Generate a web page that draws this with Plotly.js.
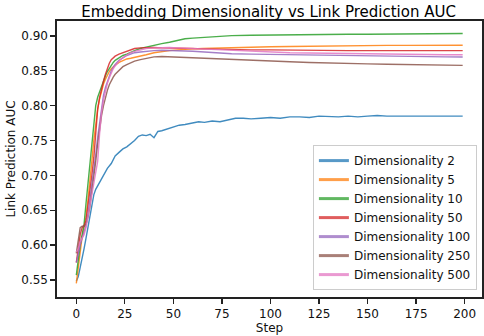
<!DOCTYPE html>
<html>
<head>
<meta charset="utf-8">
<script src="https://cdn.plot.ly/plotly-3.0.1.min.js"></script>
<style>html,body{margin:0;padding:0;background:#fff;}#chart{width:484px;height:336px;}</style>
</head>
<body>
<div id="chart"></div>
<script>
const steps = [0,1,2,3,4,5,6,7,8,9,10,11,12,13,14,15,16,17,18,19,20,22,24,26,28,30,33,36,40,44,48,52,56,60,65,70,75,80,90,100,110,120,130,140,150,160,170,180,190,199];
const stepsDim2 = [0,1,2,3,4,5,6,7,8,9,10,12,14,16,18,20,22,24,26,28,30,32,34,36,38,40,42,44,46,48,50,53,56,60,63,66,70,74,78,82,86,90,95,100,105,110,115,120,125,130,135,140,145,150,155,160,165,170,175,180,185,190,195,199];

const dim2 = [0.548,0.555,0.568,0.580,0.595,0.610,0.625,0.645,0.660,0.672,0.680,0.690,0.701,0.710,0.717,0.728,0.733,0.738,0.741,0.745,0.750,0.756,0.758,0.757,0.759,0.754,0.763,0.764,0.766,0.768,0.769,0.772,0.773,0.775,0.777,0.776,0.778,0.777,0.779,0.782,0.782,0.781,0.782,0.783,0.782,0.784,0.784,0.783,0.785,0.784,0.784,0.785,0.784,0.785,0.786,0.785,0.785,0.785,0.785,0.785,0.785,0.785,0.785,0.785];
const dim5 = [0.545,0.570,0.595,0.612,0.625,0.640,0.665,0.690,0.720,0.750,0.775,0.795,0.810,0.822,0.831,0.838,0.844,0.849,0.853,0.856,0.858,0.862,0.865,0.867,0.868,0.869,0.871,0.873,0.876,0.878,0.879,0.880,0.881,0.8815,0.882,0.8825,0.883,0.8835,0.884,0.8845,0.885,0.8855,0.886,0.886,0.8862,0.8865,0.8865,0.8867,0.8867,0.8868];
const dim10 = [0.557,0.580,0.600,0.615,0.630,0.660,0.690,0.715,0.750,0.780,0.800,0.812,0.820,0.830,0.837,0.843,0.849,0.854,0.858,0.862,0.865,0.869,0.872,0.874,0.877,0.879,0.882,0.884,0.887,0.889,0.891,0.894,0.896,0.897,0.898,0.899,0.900,0.9005,0.901,0.9015,0.902,0.902,0.9022,0.9025,0.9025,0.9028,0.903,0.903,0.9032,0.9035];
const dim50 = [0.575,0.595,0.615,0.625,0.628,0.635,0.655,0.680,0.700,0.725,0.765,0.795,0.812,0.825,0.835,0.845,0.854,0.861,0.866,0.869,0.871,0.874,0.876,0.878,0.880,0.882,0.883,0.8835,0.8835,0.883,0.883,0.8825,0.882,0.882,0.8815,0.881,0.881,0.8805,0.880,0.880,0.8795,0.8795,0.879,0.879,0.879,0.879,0.879,0.879,0.879,0.879];
const dim100 = [0.575,0.590,0.600,0.610,0.618,0.628,0.645,0.665,0.685,0.705,0.730,0.755,0.778,0.800,0.815,0.826,0.835,0.843,0.850,0.855,0.859,0.865,0.869,0.872,0.874,0.876,0.877,0.878,0.879,0.8795,0.8795,0.879,0.8785,0.878,0.877,0.876,0.875,0.8745,0.874,0.8735,0.873,0.8725,0.872,0.8715,0.871,0.8708,0.8705,0.8702,0.870,0.8698];
const dim250 = [0.588,0.610,0.625,0.627,0.627,0.630,0.640,0.655,0.675,0.695,0.720,0.745,0.768,0.786,0.800,0.812,0.822,0.830,0.836,0.841,0.845,0.851,0.856,0.859,0.862,0.864,0.866,0.868,0.870,0.8705,0.870,0.8695,0.869,0.8685,0.868,0.867,0.8665,0.866,0.865,0.864,0.863,0.862,0.861,0.8605,0.860,0.8595,0.859,0.8585,0.858,0.8578];
const dim500 = [0.590,0.595,0.605,0.610,0.615,0.625,0.640,0.655,0.675,0.690,0.700,0.720,0.760,0.790,0.808,0.822,0.832,0.840,0.847,0.853,0.857,0.864,0.869,0.873,0.876,0.878,0.880,0.882,0.883,0.8835,0.8835,0.883,0.8825,0.882,0.881,0.8805,0.880,0.879,0.878,0.877,0.876,0.8755,0.875,0.8745,0.874,0.8738,0.8735,0.8733,0.873,0.873];

const seriesNames = ['Dimensionality 2','Dimensionality 5','Dimensionality 10','Dimensionality 50','Dimensionality 100','Dimensionality 250','Dimensionality 500'];
const seriesX = [stepsDim2, steps, steps, steps, steps, steps, steps];
const seriesY = [dim2, dim5, dim10, dim50, dim100, dim250, dim500];
const colors = ['#1f77b4','#ff7f0e','#2ca02c','#d62728','#9467bd','#8c564b','#e377c2'];
const xTicks = [0,25,50,75,100,125,150,175,200];
const yTicks = [0.55,0.60,0.65,0.70,0.75,0.80,0.85,0.90];

const traces = [];
seriesNames.forEach((n,i)=>{
  traces.push({x:seriesX[i], y:seriesY[i], type:'scatter', mode:'lines', name:n, showlegend:false,
    line:{color:colors[i], width:1.4}, opacity:0.85, hoverinfo:'skip'});
});
seriesNames.forEach((n,i)=>{
  traces.push({x:[null], y:[null], type:'scatter', mode:'lines', name:n, showlegend:true,
    line:{color:colors[i], width:3}, opacity:0.75});
});

const font = 'DejaVu Sans, sans-serif';
const layout = {
  width:484, height:336,
  margin:{l:57, r:2, t:21, b:39},
  paper_bgcolor:'#fff', plot_bgcolor:'#fff',
  showlegend:true,
  title:{text:'Embedding Dimensionality vs Link Prediction AUC', font:{family:font, size:15, color:'#000'}, x:0.555, xanchor:'center', yref:'container', y:0.966, yanchor:'middle'},
  xaxis:{range:[-9.95,208.95], tickvals:xTicks, ticktext:xTicks.map(String), showgrid:false, zeroline:false,
    showline:true, mirror:true, linecolor:'#222', linewidth:1.6, ticks:'outside', ticklen:5, tickwidth:1.2, tickcolor:'#222',
    tickfont:{family:font, size:12, color:'#111'},
    title:{text:'Step', font:{family:font, size:12, color:'#111'}, standoff:2}},
  yaxis:{range:[0.5255,0.9215], tickvals:yTicks, ticktext:yTicks.map(v=>v.toFixed(2)), showgrid:false, zeroline:false,
    showline:true, mirror:true, linecolor:'#222', linewidth:1.6, ticks:'outside', ticklen:5, tickwidth:1.2, tickcolor:'#222',
    tickfont:{family:font, size:12, color:'#111'},
    title:{text:'Link Prediction AUC', font:{family:font, size:12, color:'#111'}, standoff:3}},
  legend:{x:0.988, xanchor:'right', y:0.025, yanchor:'bottom', bgcolor:'rgba(255,255,255,0.8)', bordercolor:'#cccccc', borderwidth:1,
    font:{family:font, size:12, color:'#111'}, tracegroupgap:0, itemwidth:30}
};
Plotly.newPlot('chart', traces, layout, {displayModeBar:false, staticPlot:true});
</script>
</body>
</html>
